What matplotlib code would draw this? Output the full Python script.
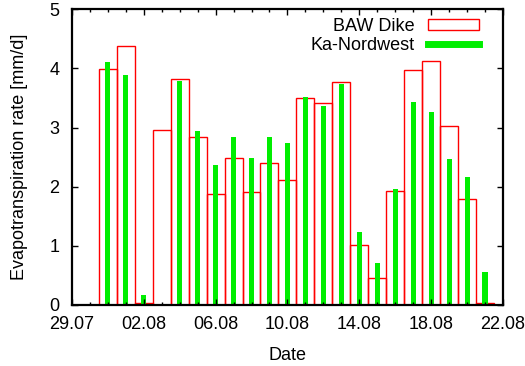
#!/usr/bin/env python3

import datetime as dt
import matplotlib
matplotlib.use('Agg')
import matplotlib.pyplot as plt
import matplotlib.dates as mdates
from matplotlib.patches import Rectangle
from matplotlib.lines import Line2D

plt.rcParams['font.family'] = ['Liberation Sans', 'DejaVu Sans']

# daily values, 31.07 .. 21.08
start = dt.datetime(2006, 7, 31)
days = [start + dt.timedelta(days=i) for i in range(22)]
baw_dike = [3.99, 4.38, 0.04, 2.96, 3.82, 2.84, 1.88, 2.49, 1.91, 2.40, 2.12,
            3.50, 3.41, 3.77, 1.01, 0.46, 1.92, 3.98, 4.12, 3.02, 1.80, 0.03]
ka_nordwest = [4.11, 3.89, 0.17, 0.0, 3.79, 2.95, 2.37, 2.84, 2.49, 2.84, 2.74,
               3.51, 3.36, 3.73, 1.24, 0.71, 1.96, 3.44, 3.27, 2.46, 2.17, 0.55]
x_range = (dt.datetime(2006, 7, 29), dt.datetime(2006, 8, 22))
major_ticks = [x_range[0] + dt.timedelta(days=4 * i) for i in range(7)]

fs = 13

fig = plt.figure(figsize=(5.25, 3.66), dpi=100)
ax = fig.add_axes([0.137, 0.1667, 0.821, 0.808])

ax.bar(days, baw_dike, width=1.0, fill=False, edgecolor='#ff0000', linewidth=1.0)
ax.bar(days, ka_nordwest, width=0.28, color='#00ee00', linewidth=0)

ax.set_xlim(*x_range)
ax.set_ylim(0, 5)
ax.set_xticks(major_ticks)
ax.xaxis.set_major_formatter(mdates.DateFormatter('%d.%m'))
ax.xaxis.set_minor_locator(mdates.DayLocator())
ax.set_yticks([0, 1, 2, 3, 4, 5])
ax.tick_params(which='both', direction='in', top=True, right=True, labelsize=fs, width=1.0)
ax.tick_params(which='major', length=4.5)
ax.tick_params(which='minor', length=2.5)
ax.tick_params(axis='x', which='major', pad=8)
ax.tick_params(axis='y', which='major', pad=9)
for s in ax.spines.values():
    s.set_linewidth(1.6)

ax.set_xlabel('Date', fontsize=fs, labelpad=10)
ax.set_ylabel('Evapotranspiration rate [mm/d]', fontsize=fs, labelpad=15)

handles = [Rectangle((0, 0), 1, 1, fill=False, edgecolor='#ff0000', linewidth=1.0),
           Line2D([], [], color='#00ee00', linewidth=5)]
ax.legend(handles, ['BAW Dike', 'Ka-Nordwest'], loc='upper right', frameon=False,
          markerfirst=False, fontsize=fs, handlelength=2.85, handleheight=0.55,
          bbox_to_anchor=(479 / 525, 1 - 18 / 366), bbox_transform=fig.transFigure,
          borderaxespad=0, borderpad=0, labelspacing=0.1, handletextpad=0.7)

plt.savefig('out.png', dpi=100)
